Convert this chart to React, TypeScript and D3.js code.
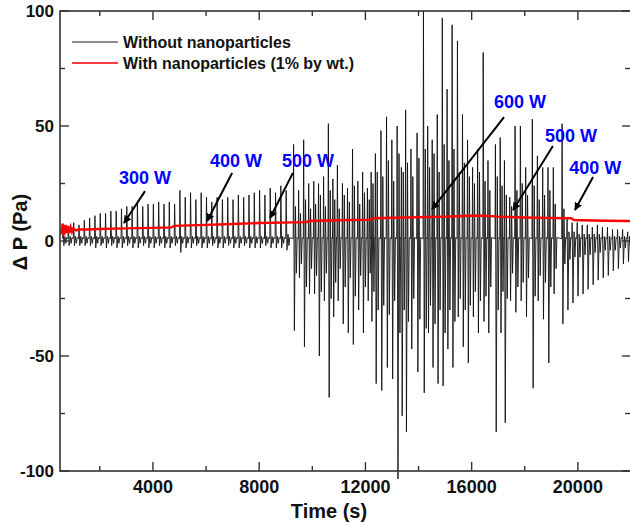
import * as d3 from 'd3';

// axis ticks
const xMajor = [4000, 8000, 12000, 16000, 20000];
const xMinor = [2000, 6000, 10000, 14000, 18000];
const yMajor = [-100, -50, 0, 50, 100];
const yMinor = [-75, -25, 25, 75];

// "Without nanoparticles": one entry per oscillation cycle
// time (s), main peak / trough (Pa), then the smaller secondary swing of the same cycle
const spikeTime = [
  600, 800, 1000, 1200, 1400, 1600, 1800, 2000, 2200, 2400, 2600, 2800, 3000, 3200, 3400,
  3600, 3800, 4000, 4200, 4400, 4600, 4800, 5000, 5200, 5400, 5600, 5800, 6000, 6200, 6400,
  6600, 6800, 7000, 7200, 7400, 7600, 7800, 8000, 8200, 8400, 8600, 8800, 9000,
  9280, 9470, 9660, 9850, 10040, 10220, 10410, 10590, 10760, 10930, 11120, 11310, 11500,
  11700, 11880, 12060, 12200, 12360, 12570, 12780, 12980, 13180, 13340, 13500, 13700, 13930,
  14170, 14330, 14500, 14690, 14880, 15060, 15250, 15450, 15640, 15830, 16020, 16210, 16420,
  16600, 16880, 17060, 17220, 17420, 17620, 17820, 18020, 18270, 18460, 18660, 18860, 19060,
  19390, 19580, 19770, 19960, 20150, 20340, 20530, 20720, 20910, 21100, 21290, 21480, 21670,
  21860,
];
const spikePeak = [
  7, 6, 8, 7, 9, 10, 11, 12, 12, 13, 13, 14, 15, 15, 16,
  15, 16, 16, 17, 16, 17, 16, 22, 19, 21, 18, 21, 19, 17, 19,
  18, 19, 18, 20, 19, 20, 21, 22, 20, 23, 21, 24, 22,
  42, 22, 44, 25, 26, 25, 28, 51, 27, 33, 25, 23, 40,
  26, 30, 23, 30, 38, 48, 54, 44, 50, 32, 57, 40, 47,
  100, 50, 44, 55, 97, 66, 94, 87, 55, 44, 32, 40, 82,
  35, 42, 45, 35, 19, 50, 50, 32, 53, 37, 32, 32, 32,
  51, 10, 8, 8, 7, 7, 6, 7, 6, 6, 5, 5, 5,
  4,
];
const spikeTrough = [
  -2, -2, -2, -2, -2, -2, -3, -2, -3, -2, -3, -3, -2, -3, -3,
  -2, -3, -3, -2, -3, -3, -2, -5, -3, -3, -2, -3, -3, -2, -3,
  -3, -2, -3, -3, -2, -3, -3, -3, -2, -3, -3, -3, -4,
  -39, -16, -46, -23, -23, -50, -26, -68, -33, -26, -36, -40, -45,
  -30, -40, -26, -35, -62, -65, -55, -60, -106, -76, -83, -47, -57,
  -66, -40, -55, -62, -63, -47, -55, -33, -46, -53, -33, -40, -35,
  -40, -83, -40, -79, -26, -31, -26, -33, -64, -26, -34, -53, -23,
  -36, -30, -27, -24, -23, -21, -19, -17, -16, -15, -13, -12, -10,
  -9,
];
const subPeak = [
  2, 2, 2, 2, 2, 2, 2, 2, 2, 2, 2, 2, 2, 2, 2,
  2, 2, 2, 2, 2, 2, 2, 2, 2, 2, 2, 2, 2, 2, 2,
  2, 2, 2, 2, 2, 2, 2, 2, 2, 2, 2, 2, 3,
  15, 12, 18, 14, 16, 20, 15, 22, 18, 14, 20, 17, 24,
  16, 21, 18, 25, 30, 28, 35, 26, 38, 30, 34, 28, 36,
  40, 32, 38, 30, 42, 35, 40, 30, 34, 28, 25, 30, 26,
  22, 28, 24, 20, 15, 22, 25, 20, 24, 18, 20, 22, 16,
  14, 4, 4, 3, 3, 3, 3, 3, 2, 2, 2, 2, 2,
  2,
];
const subTrough = [
  -1, -1, -1, -1, -1, -1, -1, -1, -1, -1, -1, -1, -1, -1, -1,
  -1, -1, -1, -1, -1, -1, -1, -1, -1, -1, -1, -1, -1, -1, -1,
  -1, -1, -1, -1, -1, -1, -1, -1, -1, -1, -1, -1, -2,
  -14, -10, -20, -12, -15, -22, -14, -25, -18, -12, -20, -16, -24,
  -15, -20, -14, -22, -30, -28, -32, -26, -40, -30, -35, -25, -34,
  -38, -28, -36, -30, -40, -30, -35, -25, -30, -28, -22, -26, -24,
  -20, -30, -22, -25, -14, -20, -18, -16, -24, -15, -18, -20, -12,
  -10, -8, -7, -7, -6, -6, -5, -5, -4, -4, -4, -3, -3,
  -3,
];

// "With nanoparticles (1% by wt.)"
const redTime = [
  550, 600, 650, 700, 750, 800, 850, 900, 950, 1000, 1100, 1200, 1500, 2000, 3000, 4000,
  4700, 4800, 6000, 7000, 8000, 9300, 9800, 9850, 11000, 12200, 12300, 13500, 15000, 16000,
  16500, 17000, 18000, 19000, 19750, 19850, 21000, 22000,
];
const redValue = [
  3, 7.5, 2.5, 7, 3.5, 6.5, 3.5, 6, 4, 5.5, 4.6, 5, 5, 5.2, 5.5, 5.7,
  5.9, 6.6, 7, 7.4, 7.8, 8.1, 8.2, 8.7, 9, 9.3, 9.9, 10.2, 10.6, 11,
  11, 10.6, 10.2, 10, 9.9, 9.1, 8.8, 8.7,
];

// power annotations: label anchor (time, Pa), arrow tail and arrow head
const noteLabel = ['300 W', '400 W', '500 W', '600 W', '500 W', '400 W'];
const noteText = [[3700, 25], [7130, 32], [9840, 32], [17820, 58], [19740, 43], [20650, 29]];
const noteFrom = [[3700, 21.7], [6980, 29.6], [9270, 29.6], [17220, 53.9], [19060, 41.3], [20570, 27.8]];
const noteTo = [[2910, 7.8], [6040, 8.7], [8410, 10], [14510, 13.9], [17560, 13.5], [19890, 13.5]];

const W = 630;
const H = 526;
const left = 60;
const right = 631;
const top = 11;
const bottom = 471;
const font = '"Liberation Sans", Arial, sans-serif';

export default function App() {
  const x = d3.scaleLinear().domain([500, 22000]).range([left, right]);
  const y = d3.scaleLinear().domain([-100, 100]).range([bottom, top]);

  const blackPts: [number, number][] = [];
  spikeTime.forEach((t, i) => {
    blackPts.push([t, 1]);
    blackPts.push([t + 15, spikePeak[i]]);
    blackPts.push([t + 45, spikeTrough[i]]);
    blackPts.push([t + 85, subPeak[i]]);
    blackPts.push([t + 120, subTrough[i]]);
    blackPts.push([t + 150, 1.5]);
  });
  const line = d3
    .line<[number, number]>()
    .x((d) => x(d[0]))
    .y((d) => y(d[1]));

  const redPts = redTime.map((t, i) => [t, redValue[i]] as [number, number]);

  const axisColor = '#333';

  return (
    <svg width={W} height={H} style={{ position: 'absolute', left: 0, top: 0, background: '#fff' }} fontFamily={font}>
      <defs>
        <clipPath id="plot">
          <rect x={left} y={top - 1} width={right - left} height={bottom - top + 9} />
        </clipPath>
        <marker id="head" viewBox="0 0 10 10" refX="9" refY="5" markerWidth="4" markerHeight="4" orient="auto">
          <path d="M0,0 L10,5 L0,10 z" fill="#000" />
        </marker>
      </defs>

      <g clipPath="url(#plot)">
        <path d={line(blackPts) || ''} fill="none" stroke="#111" strokeWidth={0.9} />
        <path d={line(redPts) || ''} fill="none" stroke="#ff0000" strokeWidth={2.4} />
      </g>

      {/* frame */}
      <rect x={left} y={top} width={right - left} height={bottom - top} fill="none" stroke={axisColor} strokeWidth={1.6} />

      {/* x ticks, bottom and top, pointing inward */}
      {xMajor.map((v) => (
        <g key={'xM' + v}>
          <line x1={x(v)} x2={x(v)} y1={bottom} y2={bottom - 9} stroke={axisColor} strokeWidth={1.4} />
          <line x1={x(v)} x2={x(v)} y1={top} y2={top + 9} stroke={axisColor} strokeWidth={1.4} />
          <text x={x(v)} y={493} textAnchor="middle" fontSize={18} fontWeight="bold" fill="#111">
            {v}
          </text>
        </g>
      ))}
      {xMinor.map((v) => (
        <g key={'xm' + v}>
          <line x1={x(v)} x2={x(v)} y1={bottom} y2={bottom - 5} stroke={axisColor} strokeWidth={1.4} />
          <line x1={x(v)} x2={x(v)} y1={top} y2={top + 5} stroke={axisColor} strokeWidth={1.4} />
        </g>
      ))}

      {/* y ticks, left and right, pointing inward */}
      {yMajor.map((v) => (
        <g key={'yM' + v}>
          <line x1={left} x2={left + 9} y1={y(v)} y2={y(v)} stroke={axisColor} strokeWidth={1.4} />
          <line x1={right} x2={right - 9} y1={y(v)} y2={y(v)} stroke={axisColor} strokeWidth={1.4} />
          <text x={54} y={y(v)} dy="0.36em" textAnchor="end" fontSize={17} fontWeight="bold" fill="#111">
            {v}
          </text>
        </g>
      ))}
      {yMinor.map((v) => (
        <g key={'ym' + v}>
          <line x1={left} x2={left + 5} y1={y(v)} y2={y(v)} stroke={axisColor} strokeWidth={1.4} />
          <line x1={right} x2={right - 6} y1={y(v)} y2={y(v)} stroke={axisColor} strokeWidth={1.4} />
        </g>
      ))}

      {/* axis titles */}
      <text x={329} y={518} textAnchor="middle" fontSize={20} fontWeight="bold" fill="#111">
        Time (s)
      </text>
      <text
        transform={`translate(27, 232) rotate(-90)`}
        textAnchor="middle"
        fontSize={20}
        fontWeight="bold"
        fill="#111"
      >
        Δ P (Pa)
      </text>

      {/* legend */}
      <line x1={72} x2={118} y1={42} y2={42} stroke="#1a1a1a" strokeWidth={1} />
      <text x={123} y={42} dy="0.36em" fontSize={16} fontWeight="bold" fill="#111">
        Without nanoparticles
      </text>
      <line x1={72} x2={118} y1={63} y2={63} stroke="#ff0000" strokeWidth={1.6} />
      <text x={123} y={63} dy="0.36em" fontSize={16} fontWeight="bold" fill="#111">
        With nanoparticles (1% by wt.)
      </text>

      {/* annotations */}
      {noteLabel.map((lab, i) => (
        <g key={'n' + i}>
          <line
            x1={x(noteFrom[i][0])}
            y1={y(noteFrom[i][1])}
            x2={x(noteTo[i][0])}
            y2={y(noteTo[i][1])}
            stroke="#000"
            strokeWidth={2}
            markerEnd="url(#head)"
          />
          <text x={x(noteText[i][0])} y={y(noteText[i][1])} textAnchor="middle" fontSize={18} fontWeight="bold" fill="#0000ff">
            {lab}
          </text>
        </g>
      ))}
    </svg>
  );
}
